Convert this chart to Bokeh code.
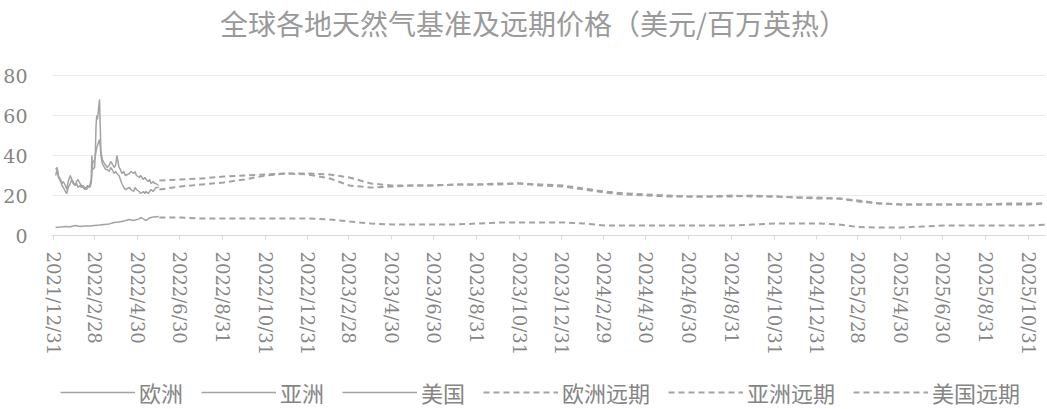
import pandas as pd
from bokeh.plotting import figure
from bokeh.layouts import column
from bokeh.models import Range1d, FixedTicker, Legend, LegendItem, Label
from bokeh.embed import file_html
from bokeh.resources import INLINE

TITLE = "全球各地天然气基准及远期价格（美元/百万英热）"

tick_labels = ["2021/12/31", "2022/2/28", "2022/4/30", "2022/6/30", "2022/8/31", "2022/10/31",
               "2022/12/31", "2023/2/28", "2023/4/30", "2023/6/30", "2023/8/31", "2023/10/31",
               "2023/12/31", "2024/2/29", "2024/4/30", "2024/6/30", "2024/8/31", "2024/10/31",
               "2024/12/31", "2025/2/28", "2025/4/30", "2025/6/30", "2025/8/31", "2025/10/31"]
y_ticks = [0, 20, 40, 60, 80]
series_names = ["欧洲", "亚洲", "美国", "欧洲远期", "亚洲远期", "美国远期"]

# daily spot (Europe & Asia share dates)
spot_dates = ["2022-01-03", "2022-01-05", "2022-01-07", "2022-01-10", "2022-01-12", "2022-01-14",
              "2022-01-17", "2022-01-19", "2022-01-21", "2022-01-24", "2022-01-26", "2022-01-28",
              "2022-01-31", "2022-02-02", "2022-02-04", "2022-02-07", "2022-02-09", "2022-02-11",
              "2022-02-14", "2022-02-16", "2022-02-18", "2022-02-21", "2022-02-23", "2022-02-24",
              "2022-02-25", "2022-02-28", "2022-03-01", "2022-03-02", "2022-03-03", "2022-03-04",
              "2022-03-07", "2022-03-08", "2022-03-09", "2022-03-10", "2022-03-11", "2022-03-14",
              "2022-03-16", "2022-03-18", "2022-03-21", "2022-03-23", "2022-03-25", "2022-03-28",
              "2022-03-30", "2022-04-01", "2022-04-04", "2022-04-06", "2022-04-08", "2022-04-11",
              "2022-04-13", "2022-04-19", "2022-04-21", "2022-04-25", "2022-04-27", "2022-04-29",
              "2022-05-03", "2022-05-05", "2022-05-09", "2022-05-11", "2022-05-13", "2022-05-16",
              "2022-05-18", "2022-05-20", "2022-05-23", "2022-05-25", "2022-05-27", "2022-05-31"]

europe_spot = [30, 33, 29, 27, 26, 27, 25, 23, 27, 30, 28, 27, 25,
               26, 24, 25, 24, 25, 24, 23, 24, 25, 28, 40, 33, 34,
               42, 55, 60, 58, 68, 55, 42, 40, 38, 36, 35, 34, 35, 37, 36, 34, 35,
               40, 34, 33, 31, 32, 30, 31, 32, 31, 32, 30,
               29, 30, 28, 29, 28, 27, 28, 26, 27, 26, 26, 25]

asia_spot = [33, 34, 30, 28, 25, 24, 22, 21, 24, 26, 28, 26, 25,
             27, 28, 26, 25, 24, 23, 24, 25, 24, 26, 30, 36, 38,
             40, 42, 44, 45, 48, 45, 40, 38, 36, 34, 33, 33, 32, 34, 33, 31, 32,
             31, 30, 28, 26, 24, 23, 24, 23, 22, 24, 23,
             22, 21, 22, 21, 22, 21, 22, 23, 22, 23, 24, 24]

us_spot_dates = ["2022-01-03", "2022-01-10", "2022-01-17", "2022-01-24", "2022-01-31", "2022-02-07",
                 "2022-02-14", "2022-02-21", "2022-02-28", "2022-03-07", "2022-03-14", "2022-03-21",
                 "2022-03-28", "2022-04-04", "2022-04-11", "2022-04-18", "2022-04-25", "2022-05-02",
                 "2022-05-06", "2022-05-10", "2022-05-13", "2022-05-17", "2022-05-20", "2022-05-24",
                 "2022-05-31"]
us_spot = [4.0, 4.2, 4.5, 4.4, 5.0, 4.5, 4.8, 4.7, 5.0, 5.2, 5.5, 5.8, 6.5,
           6.8, 7.2, 8.0, 7.5, 8.2, 9.0, 8.0, 7.5, 8.6, 9.0, 9.3, 9.5]

# monthly forward curves (2022-06 .. 2025-12)
fwd_months = [f"{y}-{m:02d}" for y, ms in [(2022, range(6, 13)), (2023, range(1, 13)),
                                           (2024, range(1, 13)), (2025, range(1, 13))] for m in ms]

europe_fwd = [27.5, 28, 28.5, 29.5, 30, 30.5, 31,
              30.5, 28.5, 25, 24, 24.5, 25, 25, 25.5, 25.5, 25.5, 26, 25.5,
              25, 23.5, 22, 21, 20.5, 20, 19.5, 19.5, 19.5, 20, 19.5, 19,
              19, 18.5, 17, 16, 15.5, 15.5, 15.5, 15.5, 15.5, 16, 16, 16]

asia_fwd = [23, 24.5, 25.5, 26.5, 28, 30, 31,
            31, 30.5, 29, 26, 25, 25, 25, 25.5, 25.5, 26, 26, 25,
            24.5, 23, 21.5, 20.5, 20, 19.5, 19.5, 19.5, 20, 19.5, 19.5, 19,
            18.5, 18.5, 17.5, 16, 15.5, 15.5, 15.5, 15.5, 15.5, 15.5, 15.5, 16]

us_fwd = [9, 9, 8.5, 8.5, 8.5, 8.5, 8.5,
          8.5, 8, 7, 6, 5.5, 5.5, 5.5, 5.5, 6, 6.5, 6.5, 6.5,
          6.5, 6, 5, 5, 5, 5, 5, 5, 5, 5.5, 6, 6,
          6, 5.5, 4.2, 4, 4, 4.5, 5, 5, 5, 5, 5, 5.5]

ORIGIN = pd.Timestamp("2021-12-31")


def days(dates):
    return [(pd.Timestamp(d) - ORIGIN).days for d in dates]


tick_pos = days([pd.to_datetime(t, format="%Y/%m/%d") for t in tick_labels])
fwd_x = days([m + "-01" for m in fwd_months])

GREY = "#a3a3a3"
TXT = "#858585"
CJK = "Noto Sans CJK SC"
SERIF = "DejaVu Serif"

# ---- main chart: frame spans from canvas top to the x axis; values 0..80 sit in its lower part
p = figure(width=1047, height=365, output_backend="svg", toolbar_location=None,
           x_range=Range1d(-3, 1425), y_range=Range1d(0, 117.5),
           min_border_left=50, min_border_right=2, min_border_top=0, min_border_bottom=130)
p.outline_line_color = None
p.background_fill_color = "white"
p.border_fill_color = "white"

p.xgrid.grid_line_color = None
p.ygrid.grid_line_color = "#ebebeb"
p.ygrid.ticker = FixedTicker(ticks=y_ticks)

p.yaxis.ticker = FixedTicker(ticks=y_ticks)
p.yaxis.axis_line_color = None
p.yaxis.major_tick_line_color = None
p.yaxis.minor_tick_line_color = None
p.yaxis.major_label_standoff = 18
p.yaxis.major_label_text_font = SERIF
p.yaxis.major_label_text_font_size = "19px"
p.yaxis.major_label_text_color = TXT

p.xaxis.ticker = FixedTicker(ticks=tick_pos)
p.xaxis.major_label_overrides = {t: lab for t, lab in zip(tick_pos, tick_labels)}
p.xaxis.major_label_orientation = "vertical"
p.xaxis.axis_line_color = "#d9d9d9"
p.xaxis.major_tick_line_color = "#d9d9d9"
p.xaxis.major_tick_out = 4
p.xaxis.major_tick_in = 0
p.xaxis.minor_tick_line_color = None
p.xaxis.major_label_standoff = 12
p.xaxis.major_label_text_font = SERIF
p.xaxis.major_label_text_font_size = "18px"
p.xaxis.major_label_text_color = TXT

solid = dict(line_color=GREY, line_width=1.5)
dashed = dict(line_color=GREY, line_width=2, line_dash="6 4")

p.line(days(spot_dates), europe_spot, **solid)
p.line(days(spot_dates), asia_spot, **solid)
p.line(days(us_spot_dates), us_spot, **solid)
p.line(fwd_x, europe_fwd, **dashed)
p.line(fwd_x, asia_fwd, **dashed)
p.line(fwd_x, us_fwd, **dashed)

title = Label(x=482, y=213, x_units="screen", y_units="screen", text=TITLE,
              text_font=CJK, text_font_size="28px", text_color="#9a9a9a",
              text_align="center", text_baseline="middle")
p.add_layout(title)

# ---- legend strip (same line styles; its lines hold no drawable point)
lg = figure(width=1047, height=44, output_backend="svg", toolbar_location=None,
            x_range=Range1d(0, 1), y_range=Range1d(0, 1),
            x_axis_location=None, y_axis_location=None,
            min_border_left=0, min_border_right=0, min_border_top=0, min_border_bottom=0)
lg.grid.visible = False
lg.outline_line_color = None
lg.border_fill_color = "white"
styles = [solid, solid, solid, dashed, dashed, dashed]
nan = float("nan")
items = [LegendItem(label=name, renderers=[lg.line([nan], [nan], **st)])
         for name, st in zip(series_names, styles)]
legend = Legend(items=items, orientation="horizontal", location=(9, 1),
                glyph_width=75, glyph_height=22, label_height=22, label_standoff=4, spacing=18,
                padding=0, margin=0, border_line_alpha=0, background_fill_alpha=0,
                label_text_font=CJK, label_text_font_size="22px", label_text_color=TXT)
lg.add_layout(legend)

open("out.html", "w").write(file_html(column(p, lg, spacing=0), INLINE))
